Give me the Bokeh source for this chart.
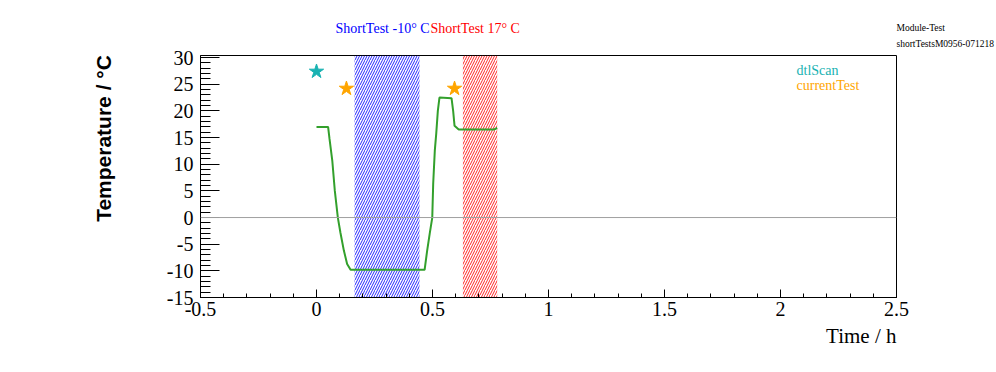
from bokeh.plotting import figure
from bokeh.models import Range1d, FixedTicker, Span, Label
from bokeh.embed import file_html
from bokeh.resources import INLINE
import numpy as np

# ---- data ----
time_h = [0.0, 0.05, 0.056, 0.068, 0.079, 0.092, 0.103, 0.118, 0.132, 0.147,
          0.466, 0.477, 0.488, 0.499, 0.503, 0.510, 0.516, 0.523, 0.530,
          0.582, 0.589, 0.595, 0.613, 0.764, 0.779]
temp_c = [17.0, 17.0, 14.8, 10.7, 5.0, 0.0, -2.8, -6.2, -8.7, -9.8,
          -9.8, -6.2, -3.0, 0.0, 6.4, 12.6, 15.7, 20.0, 22.5,
          22.4, 20.0, 17.2, 16.5, 16.5, 16.8]

cold_band = [0.164, 0.444]   # ShortTest -10 C
warm_band = [0.631, 0.779]   # ShortTest 17 C

dtl_time = [0.0]
dtl_temp = [27.4]
cur_time = [0.129, 0.595]
cur_temp = [24.2, 24.2]

x_ticks = [-0.5, 0.0, 0.5, 1.0, 1.5, 2.0, 2.5]
x_tick_labels = ["-0.5", "0", "0.5", "1", "1.5", "2", "2.5"]
y_ticks = [-15, -10, -5, 0, 5, 10, 15, 20, 25, 30]
y_tick_labels = ["-15", "-10", "-5", "0", "5", "10", "15", "20", "25", "30"]

XMIN, XMAX = -0.5, 2.5
YMIN, YMAX = -15.0, 30.4

W, H = 996, 372
FX0, FX1, FY0, FY1 = 200, 896, 55, 297
p = figure(width=W, height=H, output_backend="svg", toolbar_location=None,
           x_range=Range1d(XMIN, XMAX), y_range=Range1d(YMIN, YMAX),
           min_border_left=FX0, min_border_right=W - FX1,
           min_border_top=FY0, min_border_bottom=H - FY1)
p.background_fill_color = "white"
p.border_fill_color = "white"
p.outline_line_color = "black"
p.outline_line_width = 1
p.xgrid.visible = False
p.ygrid.visible = False

SERIF = "Liberation Serif"

# axes
p.xaxis.ticker = FixedTicker(ticks=x_ticks,
                             minor_ticks=list(np.round(np.arange(-0.5, 2.51, 0.1), 2)))
p.xaxis.major_label_overrides = {t: l for t, l in zip(x_ticks, x_tick_labels)}
p.yaxis.ticker = FixedTicker(ticks=y_ticks, minor_ticks=list(range(-15, 31)))
p.yaxis.major_label_overrides = {t: l for t, l in zip(y_ticks, y_tick_labels)}
for ax in (p.xaxis, p.yaxis):
    ax.axis_line_color = "black"
    ax.major_tick_line_color = "black"
    ax.minor_tick_line_color = "black"
    ax.major_tick_out = 0
    ax.minor_tick_out = 0
    ax.major_label_text_font = SERIF
    ax.major_label_text_font_size = "20px"
    ax.major_label_text_color = "black"
p.xaxis.major_tick_in = 8
p.xaxis.minor_tick_in = 4
p.xaxis.major_label_standoff = 4
p.yaxis.major_tick_in = 19
p.yaxis.minor_tick_in = 10
p.yaxis.major_label_standoff = 7

# hatched bands
p.quad(left=[cold_band[0]], right=[cold_band[1]], bottom=[YMIN], top=[YMAX],
       fill_alpha=0, line_color=None, hatch_pattern="/", hatch_color="blue",
       hatch_scale=5, hatch_weight=1, hatch_alpha=0.85)
p.quad(left=[warm_band[0]], right=[warm_band[1]], bottom=[YMIN], top=[YMAX],
       fill_alpha=0, line_color=None, hatch_pattern="/", hatch_color="red",
       hatch_scale=5, hatch_weight=1, hatch_alpha=0.85)

p.add_layout(Span(location=0, dimension="width", line_color="#a0a0a0", line_width=1))

p.line(time_h, temp_c, line_color="#33a02c", line_width=2)

p.scatter(dtl_time, dtl_temp, marker="star", size=15, fill_color="#19b2b2",
          line_color="#19b2b2")
p.scatter(cur_time, cur_temp, marker="star", size=15, fill_color="#ffa500",
          line_color="#ffa500")

# convert page pixels to data coordinates for text placement
def dx(px):
    return XMIN + (px - FX0) * (XMAX - XMIN) / (FX1 - FX0)
def dy(py):
    return YMAX - (py - FY0) * (YMAX - YMIN) / (FY1 - FY0)

# legend texts (inside frame)
p.add_layout(Label(x=dx(796), y=dy(70), text="dtlScan", text_color="#19b2b2",
                   text_font=SERIF, text_font_size="14px", text_baseline="middle"))
p.add_layout(Label(x=dx(796), y=dy(85), text="currentTest", text_color="#ffa500",
                   text_font=SERIF, text_font_size="14px", text_baseline="middle"))

# texts outside the frame: placed in side panels so they are not clipped
p.add_layout(Label(x=dx(335), y=dy(28), text="ShortTest -10° C", text_color="blue",
                   text_font=SERIF, text_font_size="14px", text_baseline="middle"), "above")
p.add_layout(Label(x=dx(430), y=dy(28), text="ShortTest 17° C", text_color="red",
                   text_font=SERIF, text_font_size="14px", text_baseline="middle"), "above")
p.add_layout(Label(x=dx(896), y=dy(27), text="Module-Test", text_color="black",
                   text_font=SERIF, text_font_size="9.5px", text_baseline="middle"), "above")
p.add_layout(Label(x=dx(896), y=dy(43), text="shortTestsM0956-071218", text_color="black",
                   text_font=SERIF, text_font_size="9.5px", text_baseline="middle"), "above")

p.add_layout(Label(x=dx(896), y=dy(335), text="Time / h", text_color="black",
                   text_font=SERIF, text_font_size="21px", text_align="right",
                   text_baseline="middle"), "below")
p.add_layout(Label(x=dx(103), y=dy(138), text="Temperature / °C", text_color="black",
                   text_font="Liberation Sans", text_font_style="bold",
                   text_font_size="21px", text_align="center", text_baseline="middle",
                   angle=np.pi / 2), "left")

open("out.html", "w").write(file_html(p, INLINE))
